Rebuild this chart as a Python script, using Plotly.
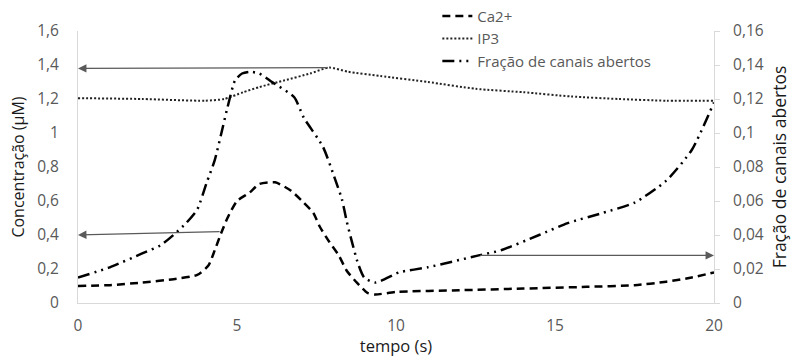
import plotly.graph_objects as go

# ---- data ----
t_ca = [0, 1, 2, 3, 3.75, 4.1, 4.3, 4.5, 4.7, 5.0, 5.4, 5.7, 6.2, 6.7, 7.1, 7.4, 7.6, 7.9,
        8.2, 8.45, 8.77, 9.1, 9.35, 10, 12, 14, 16, 17.5, 18.5, 19.3, 20]
ca = [0.10, 0.105, 0.12, 0.14, 0.165, 0.22, 0.31, 0.41, 0.50, 0.60, 0.65, 0.70, 0.71, 0.66,
      0.59, 0.53, 0.45, 0.36, 0.28, 0.19, 0.12, 0.06, 0.05, 0.065, 0.075, 0.085, 0.095,
      0.105, 0.125, 0.15, 0.18]

t_ip3 = [0, 2, 4, 4.6, 5.2, 5.7, 6.5, 7.3, 7.9, 8.5, 9.5, 11, 12.5, 14, 15.5, 17, 18.5, 20]
ip3 = [1.205, 1.20, 1.19, 1.20, 1.24, 1.27, 1.31, 1.35, 1.385, 1.36, 1.335, 1.30, 1.26,
       1.24, 1.215, 1.20, 1.19, 1.19]

t_frac = [0, 1, 2, 2.6, 3.0, 3.4, 3.75, 4.05, 4.3, 4.56, 4.7, 4.94, 5.16, 5.4, 5.7, 6.1,
          6.8, 7.1, 7.7, 8.1, 8.3, 8.45, 8.6, 8.8, 9.0, 9.35, 10.1, 11, 12.6, 13.3, 14.5,
          15.4, 16.5, 17.5, 18.5, 19.3, 20]
frac = [0.015, 0.021, 0.029, 0.034, 0.040, 0.047, 0.055, 0.071, 0.084, 0.104, 0.115, 0.131,
        0.135, 0.136, 0.135, 0.130, 0.121, 0.109, 0.092, 0.072, 0.061, 0.048, 0.037, 0.0235,
        0.015, 0.012, 0.018, 0.021, 0.028, 0.031, 0.040, 0.047, 0.053, 0.059, 0.072, 0.090,
        0.118]

names = ["Ca2+", "IP3", "Fração de canais abertos"]

# arrows: (x_tail, y_tail, x_head, y_head, yaxis)
arrows = [
    (7.9, 1.385, 0, 1.38, "y"),
    (4.5, 0.42, 0, 0.40, "y"),
    (12.6, 0.028, 20, 0.028, "y2"),
]

x_ticks = [0, 5, 10, 15, 20]
y_ticks = [0, 0.2, 0.4, 0.6, 0.8, 1.0, 1.2, 1.4, 1.6]
y_tick_text = ["0", "0,2", "0,4", "0,6", "0,8", "1", "1,2", "1,4", "1,6"]
y2_ticks = [0, 0.02, 0.04, 0.06, 0.08, 0.10, 0.12, 0.14, 0.16]
y2_tick_text = ["0", "0,02", "0,04", "0,06", "0,08", "0,1", "0,12", "0,14", "0,16"]

FONT = "Open Sans"
GRAY = "#595959"
DARK = "#1a1a1a"
TICK = 15.5

fig = go.Figure()
fig.add_trace(go.Scatter(x=t_ca, y=ca, name=names[0], mode="lines",
                         line=dict(color="black", width=2.5, dash="8px,5px",
                                   shape="spline", smoothing=0.6)))
fig.add_trace(go.Scatter(x=t_ip3, y=ip3, name=names[1], mode="lines",
                         line=dict(color="#222", width=2, dash="2px,2px",
                                   shape="spline", smoothing=0.6)))
fig.add_trace(go.Scatter(x=t_frac, y=frac, name=names[2], mode="lines", yaxis="y2",
                         line=dict(color="black", width=2.5, dash="12px,5px,2px,5px,2px,5px",
                                   shape="spline", smoothing=0.6)))

for (xt, yt, xh, yh, ax_) in arrows:
    fig.add_annotation(x=xh, y=yh, ax=xt, ay=yt, xref="x", yref=ax_, axref="x", ayref=ax_,
                       showarrow=True, arrowhead=2, arrowsize=1.3, arrowwidth=1.3,
                       arrowcolor="#5a5a5a", text="", standoff=0)

fig.update_layout(
    width=803, height=357,
    margin=dict(l=78, r=89, t=31, b=54, autoexpand=False),
    paper_bgcolor="white", plot_bgcolor="white",
    font=dict(family=FONT, size=TICK, color=GRAY),
    showlegend=True,
    legend=dict(x=0.565, y=1.115, xanchor="left", yanchor="top", bgcolor="rgba(0,0,0,0)",
                font=dict(family=FONT, size=15, color=GRAY), tracegroupgap=0,
                itemwidth=30),
    xaxis=dict(range=[0, 20], tickvals=x_ticks, showgrid=False, zeroline=False,
               showline=True, linecolor="#d9d9d9", linewidth=1, ticks="",
               ticklabelstandoff=8,
               tickfont=dict(family=FONT, size=TICK, color=GRAY),
               title=dict(text="tempo (s)", font=dict(family=FONT, size=16.5, color=DARK),
                          standoff=2)),
    yaxis=dict(range=[0, 1.6], tickvals=y_ticks, ticktext=y_tick_text, showgrid=False,
               zeroline=False, showline=True, linecolor="#d9d9d9", linewidth=1, ticks="",
               ticklabelstandoff=15,
               tickfont=dict(family=FONT, size=TICK, color=GRAY),
               title=dict(text="Concentração (µM)", font=dict(family=FONT, size=16, color=DARK),
                          standoff=8)),
    yaxis2=dict(range=[0, 0.16], tickvals=y2_ticks, ticktext=y2_tick_text, overlaying="y",
                side="right", showgrid=False, zeroline=False, showline=True,
                linecolor="#d9d9d9", linewidth=1, ticks="outside", ticklen=5,
                tickcolor="#d9d9d9", ticklabelstandoff=10,
                tickfont=dict(family=FONT, size=TICK, color=GRAY),
                title=dict(text="Fração de canais abertos",
                           font=dict(family=FONT, size=17.5, color=DARK), standoff=10)),
)

fig.write_html("out.html")
